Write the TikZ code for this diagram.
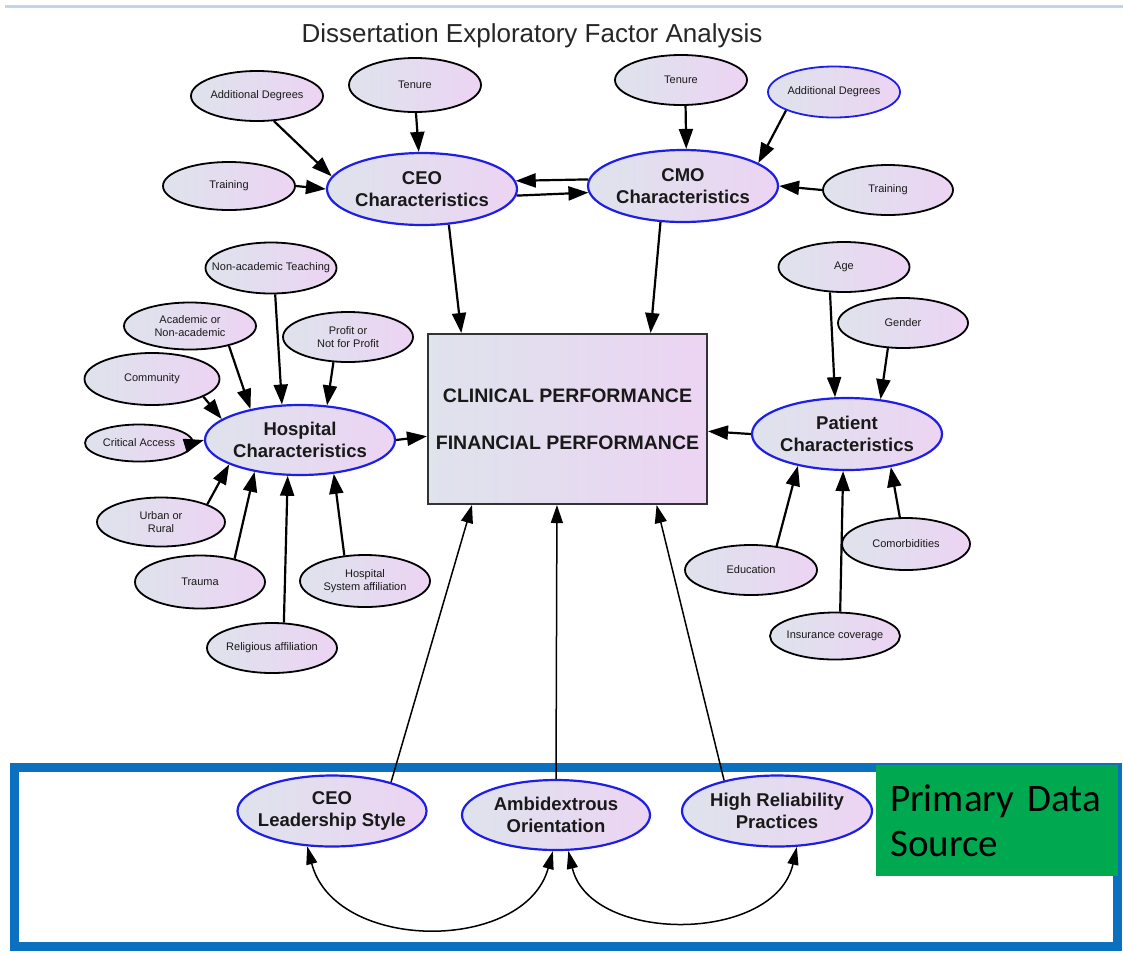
\documentclass[tikz,border=0pt]{standalone}
\usepackage{fontspec}
\setmainfont{Liberation Sans}
\newfontfamily\calibrifont{Carlito}
\usetikzlibrary{arrows.meta,shapes.geometric}

\definecolor{fillL}{RGB}{222,227,236}
\definecolor{fillR}{RGB}{236,212,243}
\definecolor{ringblue}{RGB}{30,30,230}
\definecolor{frameblue}{RGB}{12,112,192}
\definecolor{srcgreen}{RGB}{0,168,80}
\definecolor{topline}{RGB}{196,212,232}
\definecolor{inktext}{RGB}{25,25,25}

\begin{document}
\begin{tikzpicture}[x=1pt,y=-1pt,
  item/.style={ellipse, draw=black, line width=1.8pt, left color=fillL, right color=fillR,
    inner xsep=-22pt, inner ysep=0pt, align=center, text=inktext,
    font=\fontsize{11}{12.5}\selectfont},
  factor/.style={ellipse, draw=ringblue, line width=2.2pt, left color=fillL, right color=fillR,
    minimum width=190pt, minimum height=72pt, inner xsep=-10pt, inner ysep=0pt,
    align=center, text=inktext, font=\bfseries\fontsize{18.5}{22}\selectfont},
  outcome/.style={rectangle, draw=black!80, line width=2pt, left color=fillL, right color=fillR,
    minimum width=279pt, minimum height=170pt, align=center, text=inktext,
    font=\bfseries\fontsize{19.5}{22}\selectfont},
  link/.style={-{Triangle[length=20pt,width=14pt]}, line width=2.2pt},
  uplink/.style={-{Triangle[length=18pt,width=12pt]}, line width=1.5pt},
  corr/.style={{Triangle[length=18pt,width=11pt]}-{Triangle[length=18pt,width=11pt]}, line width=1.5pt},
]
\useasboundingbox (0,0) rectangle (1123,954);

% header rule and title
\draw[topline, line width=3pt] (5,6.5) -- (1123,6.5);
\node[font=\fontsize{26}{30}\selectfont, text=black!85, anchor=base] (title) at (532,42)
  {Dissertation Exploratory Factor Analysis};

% primary data source frame
\draw[frameblue, line width=9pt] (14.5,767) rectangle (1117,946);
\node[rectangle, fill=srcgreen, anchor=north west, minimum width=242pt, minimum height=111pt,
  text width=214pt, inner xsep=14pt, align=left, text=black,
  font=\calibrifont\fontsize{39}{45}\selectfont] (src) at (876,765) {Primary Data\\Source};

% outcome
\node[outcome] (perf) at (567.5,419) {CLINICAL PERFORMANCE\\[25pt]FINANCIAL PERFORMANCE};

% latent factors
\node[factor] (ceo) at (422,189) {CEO\\Characteristics};
\node[factor] (cmo) at (683,186) {CMO\\Characteristics};
\node[factor, minimum height=70pt] (hosp) at (300,440) {Hospital\\Characteristics};
\node[factor] (pat) at (847,434) {Patient\\Characteristics};
\node[factor, minimum width=189pt, minimum height=71pt] (ls) at (332,811) {CEO\\Leadership Style};
\node[factor, minimum width=188pt, minimum height=70pt] (amb) at (556,815) {Ambidextrous\\Orientation};
\node[factor, minimum height=71pt] (hr) at (777,811) {High Reliability\\Practices};

% CEO indicators
\node[item, minimum width=132pt, minimum height=50pt] (ceoad) at (257,96) {Additional Degrees};
\node[item, minimum width=132pt, minimum height=54pt] (ceoten) at (415,85) {Tenure};
\node[item, minimum width=132pt, minimum height=48pt] (ceotr) at (229,186) {Training};

% CMO indicators
\node[item, minimum width=132pt, minimum height=50pt] (cmoten) at (681,80) {Tenure};
\node[item, draw=ringblue, minimum width=132pt, minimum height=51pt] (cmoad) at (834,92) {Additional Degrees};
\node[item, minimum width=130pt, minimum height=50pt] (cmotr) at (888,190) {Training};

% hospital indicators
\node[item, minimum width=131pt, minimum height=51pt] (nat) at (271,268) {Non-academic Teaching};
\node[item, minimum width=132pt, minimum height=47pt] (acad) at (190,326) {Academic or\\Non-academic};
\node[item, minimum width=130pt, minimum height=50pt] (prof) at (348,337) {Profit or\\Not for Profit};
\node[item, minimum width=135pt, minimum height=52pt] (comm) at (152,379) {Community};
\node[item, minimum width=108pt, minimum height=37pt] (crit) at (139,443) {Critical Access};
\node[item, minimum width=128pt, minimum height=49pt] (urb) at (161,522) {Urban or\\Rural};
\node[item, minimum width=130pt, minimum height=53pt] (trau) at (200,582) {Trauma};
\node[item, minimum width=130pt, minimum height=50pt] (relig) at (272,648) {Religious affiliation};
\node[item, minimum width=130pt, minimum height=52pt] (hsys) at (365,581) {Hospital\\System affiliation};

% patient indicators
\node[item, minimum width=131pt, minimum height=50pt] (age) at (844,267) {Age};
\node[item, minimum width=130pt, minimum height=50pt] (gend) at (903,323) {Gender};
\node[item, minimum width=132pt, minimum height=50pt] (edu) at (751,570) {Education};
\node[item, minimum width=128pt, minimum height=52pt] (comor) at (906,544) {Comorbidities};
\node[item, minimum width=130pt, minimum height=47pt] (ins) at (835,636) {Insurance coverage};

% CEO / CMO paths
\draw[link] (ceoad.-56) -- (ceo.172);
\draw[link] (ceoten.-88) -- (ceo.95);
\draw[link] (ceotr.east) -- (ceo.180);
\draw[link] (cmo.176.4) -- (ceo.5.4);
\draw[link] (ceo.-4.8) -- (cmo.184.8);
\draw[link] (cmoten.-80) -- (cmo.85);
\draw[link] (cmoad.-159) -- (cmo.17.3);
\draw[link] (cmotr.west) -- (cmo.east);
\draw[link] (ceo.-53.6) -- (perf.141.1);
\draw[link] (cmo.-122.6) -- (perf.46.6);

% hospital paths
\draw[link] (nat.-81) -- (hosp.117);
\draw[link] (acad.-27.8) -- (hosp.148);
\draw[link] (prof.-120) -- (hosp.52.4);
\draw[link] (comm.-19.4) -- (hosp.165);
\draw[link] (crit.east) -- (hosp.west);
\draw[link] (urb.21.2) -- (hosp.-161);
\draw[link] (trau.34.4) -- (hosp.-145);
\draw[link] (relig.65) -- (hosp.-109);
\draw[link] (hsys.129.8) -- (hosp.-45);
\draw[link] (hosp.east) -- (perf.187.8);

% patient paths
\draw[link] (age.-119) -- (pat.108.4);
\draw[link] (gend.-121) -- (pat.46);
\draw[link] (edu.43.9) -- (pat.-147.6);
\draw[link] (comor.103) -- (pat.-37.5);
\draw[link] (ins.78) -- (pat.-96.3);
\draw[link] (pat.west) -- (perf.-5.7);

% primary data factors
\draw[uplink] (ls.26.6) -- (perf.-138.3);
\draw[uplink] (amb.north) -- (perf.-97.7);
\draw[uplink] (hr.150.6) -- (perf.-44.8);
\draw[corr] (ls.-125) .. controls (335,953) and (525,953) .. (amb.-95);
\draw[corr] (amb.-71) .. controls (590,944) and (775,944) .. (hr.-61);
\end{tikzpicture}
\end{document}
